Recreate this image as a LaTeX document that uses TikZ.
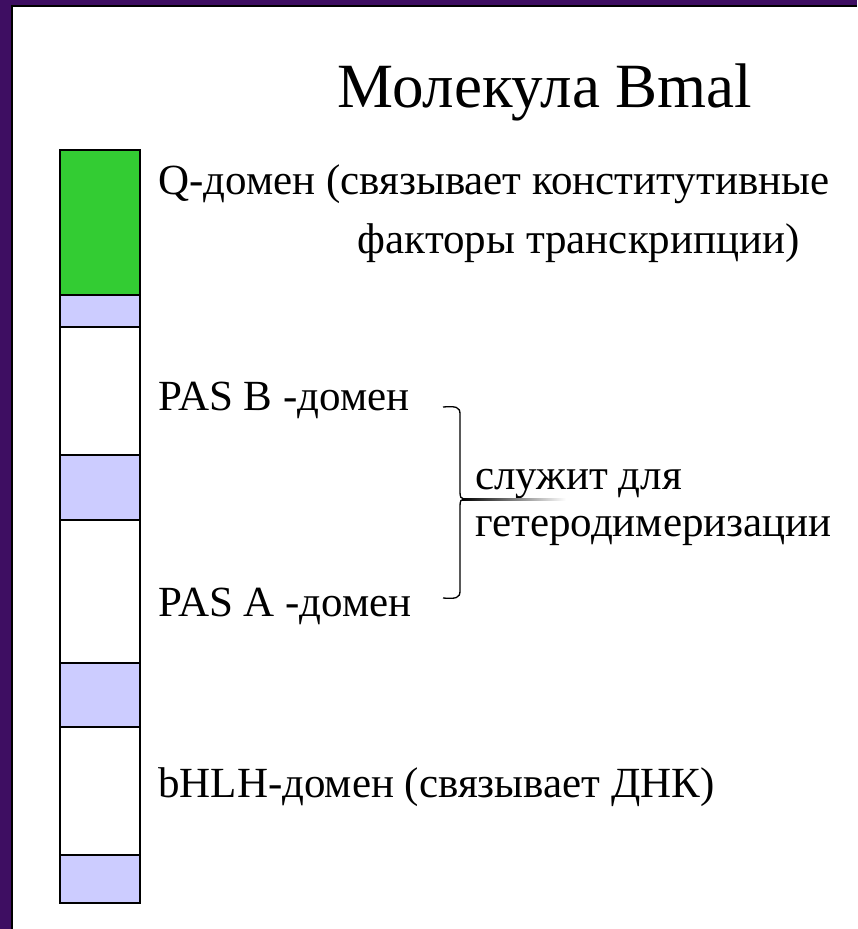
\documentclass[tikz,border=0pt]{standalone}
\usepackage{fontspec}
\setmainfont{Liberation Serif}
\definecolor{bgpurple}{RGB}{62,14,98}
\definecolor{qgreen}{RGB}{51,204,51}
\definecolor{lav}{RGB}{204,204,255}
\tikzset{
  seg/.style={draw=black,line width=2pt},
  lbl/.style={inner sep=0pt,font=\rmfamily\fontsize{43}{48}\selectfont},
}
\begin{document}
\begin{tikzpicture}[x=1pt,y=-1pt]
\useasboundingbox (0,0) rectangle (857,929);
\fill[bgpurple] (0,0) rectangle (857,929);
\fill[white] (12,6) rectangle (857,929);
\draw[line width=2pt] (12,929) -- (12,6) -- (857,6);
% bar segments
\filldraw[seg,fill=qgreen] (60,150) rectangle (140,295);
\filldraw[seg,fill=lav] (60,295) rectangle (140,327);
\filldraw[seg,fill=white] (60,327) rectangle (140,455);
\filldraw[seg,fill=lav] (60,455) rectangle (140,520);
\filldraw[seg,fill=white] (60,520) rectangle (140,663);
\filldraw[seg,fill=lav] (60,663) rectangle (140,727);
\filldraw[seg,fill=white] (60,727) rectangle (140,855);
\filldraw[seg,fill=lav] (60,855) rectangle (140,903);
% title
\node[inner sep=0pt,anchor=base,font=\rmfamily\fontsize{63}{70}\selectfont] (title) at (545,107) {Молекула Bmal};
% labels
\node[lbl,anchor=base west] (q1) at (158,194) {Q-домен (связывает конститутивные};
\node[lbl,anchor=base east] (q2) at (800,253) {факторы транскрипции)};
\node[lbl,anchor=base west] (pasb) at (158,410) {PAS B -домен};
\node[lbl,anchor=base west] (pasa) at (158,616) {PAS A -домен};
\node[lbl,anchor=base west] (bhlh) at (158,797) {bHLH-домен (связывает ДНК)};
\node[lbl,anchor=base west] (s1) at (475,489) {служит для};
\node[lbl,anchor=base west] (s2) at (475,536) {гетеродимеризации};
% brace
\coordinate (bt) at (443,407);
\coordinate (bm) at (464,499);
\coordinate (bb) at (443,598);
\draw[line width=1.3pt] (bt) .. controls (456,406) and (460,407) .. (460,414)
  -- (460,492) .. controls (460,497) and (461,499) .. (bm)
  .. controls (461,499) and (460,501) .. (460,506)
  -- (460,591) .. controls (460,598) and (456,599) .. (bb);
\shade[left color=black,right color=white] (462,498) rectangle (566,500);
\end{tikzpicture}
\end{document}
